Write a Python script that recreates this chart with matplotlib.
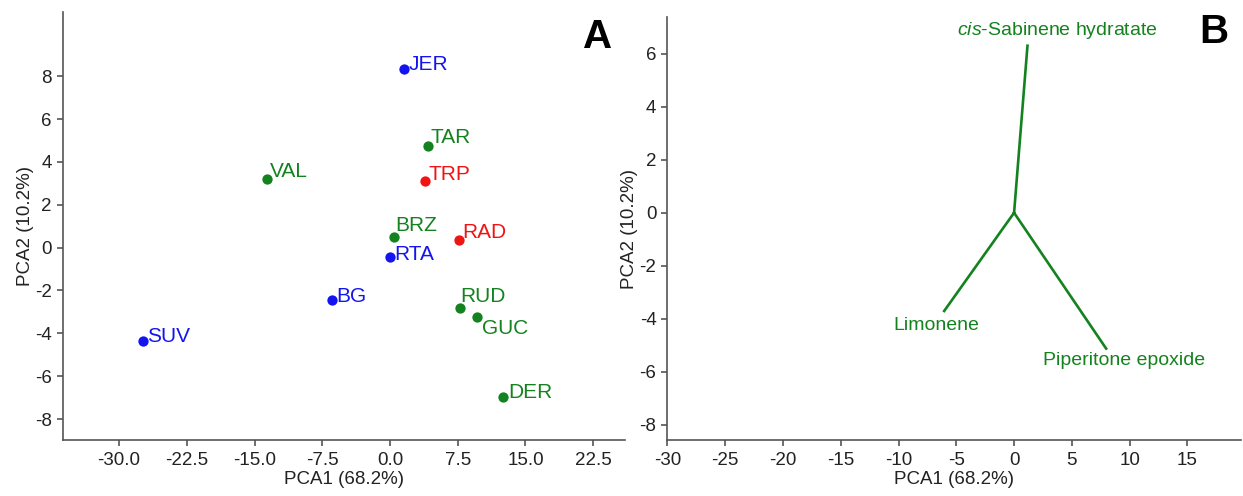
import matplotlib
matplotlib.use("Agg")
import matplotlib.pyplot as plt

plt.rcParams['font.family'] = ['Liberation Sans', 'DejaVu Sans']
plt.rcParams['axes.unicode_minus'] = False
plt.rcParams['mathtext.fontset'] = 'custom'
plt.rcParams['mathtext.it'] = 'Liberation Sans:italic'
plt.rcParams['mathtext.rm'] = 'Liberation Sans'

# Panel A: sample scores
samples = ['JER', 'TAR', 'TRP', 'VAL', 'BRZ', 'RAD', 'RTA', 'BG', 'RUD', 'GUC', 'SUV', 'DER']
pc1 = [1.5, 4.2, 3.9, -13.6, 0.4, 7.6, 0.0, -6.4, 7.7, 9.6, -27.3, 12.5]
pc2 = [8.34, 4.73, 3.10, 3.18, 0.50, 0.34, -0.44, -2.43, -2.82, -3.25, -4.37, -6.97]
groups = ['b', 'g', 'r', 'g', 'g', 'r', 'b', 'b', 'g', 'g', 'b', 'g']

# Panel B: loadings
compounds = ['$\\it{cis}$-Sabinene hydratate', 'Limonene', 'Piperitone epoxide']
load1 = [1.16, -6.05, 7.97]
load2 = [6.31, -3.71, -5.13]

colors = {'b': '#1414f0', 'g': '#14821e', 'r': '#f01414'}
# label offsets in pixels (dx, dy) from point to text baseline
offsets = {'JER': (5, -1), 'TAR': (3, 3), 'TRP': (3, 1), 'VAL': (3, 2), 'BRZ': (2, 6),
           'RAD': (4, 2), 'RTA': (4, -3), 'BG': (4, -2), 'RUD': (1, 6), 'GUC': (5, -17),
           'SUV': (4, -1), 'DER': (5, -1)}

fig = plt.figure(figsize=(12.43, 4.96), dpi=100)
axA = fig.add_axes([0.0507, 0.112, 0.452, 0.864])
axB = fig.add_axes([0.537, 0.112, 0.461, 0.854])

for ax in (axA, axB):
    for s in ['top', 'right']:
        ax.spines[s].set_visible(False)
    for s in ['left', 'bottom']:
        ax.spines[s].set_color('#555555')
        ax.spines[s].set_linewidth(1.2)
    ax.tick_params(direction='out', length=4, width=1.2, color='#555555',
                   labelsize=13.5, labelcolor='#222222', pad=4)
    ax.set_xlabel('PCA1 (68.2%)', fontsize=13.5, color='#222222', labelpad=2)
    ax.set_ylabel('PCA2 (10.2%)', fontsize=13.5, color='#222222', labelpad=1)

# panel A
for name, x, y, g in zip(samples, pc1, pc2, groups):
    axA.scatter(x, y, s=55, color=colors[g], zorder=3, linewidths=0)
    dx, dy = offsets[name]
    axA.annotate(name, (x, y), xytext=(dx, dy), textcoords='offset pixels',
                 color=colors[g], fontsize=15, ha='left', va='baseline')
axA.set_xlim(-36.2, 26.0)
axA.set_ylim(-9.0, 11.0)
xt = [-30, -22.5, -15, -7.5, 0, 7.5, 15, 22.5]
axA.set_xticks(xt)
axA.set_xticklabels(['%.1f' % v for v in xt])
axA.set_yticks(range(-8, 9, 2))
axA.text(0.978, 0.985, 'A', transform=axA.transAxes, fontsize=29, fontweight='bold',
         ha='right', va='top')

# panel B
green = colors['g']
for x, y in zip(load1, load2):
    axB.plot([0, x], [0, y], color=green, linewidth=1.9)
axB.text(-4.9, 6.89, compounds[0], color=green, fontsize=14, ha='left', va='center')
axB.text(-6.7, -4.24, compounds[1], color=green, fontsize=14, ha='center', va='center')
axB.text(9.54, -5.59, compounds[2], color=green, fontsize=14, ha='center', va='center')
axB.set_xlim(-30, 19.6)
axB.set_ylim(-8.6, 7.4)
axB.set_xticks(range(-30, 16, 5))
axB.set_yticks(range(-8, 7, 2))
axB.text(0.978, 1.01, 'B', transform=axB.transAxes, fontsize=29, fontweight='bold',
         ha='right', va='top')

fig.savefig('out.png', dpi=100)
